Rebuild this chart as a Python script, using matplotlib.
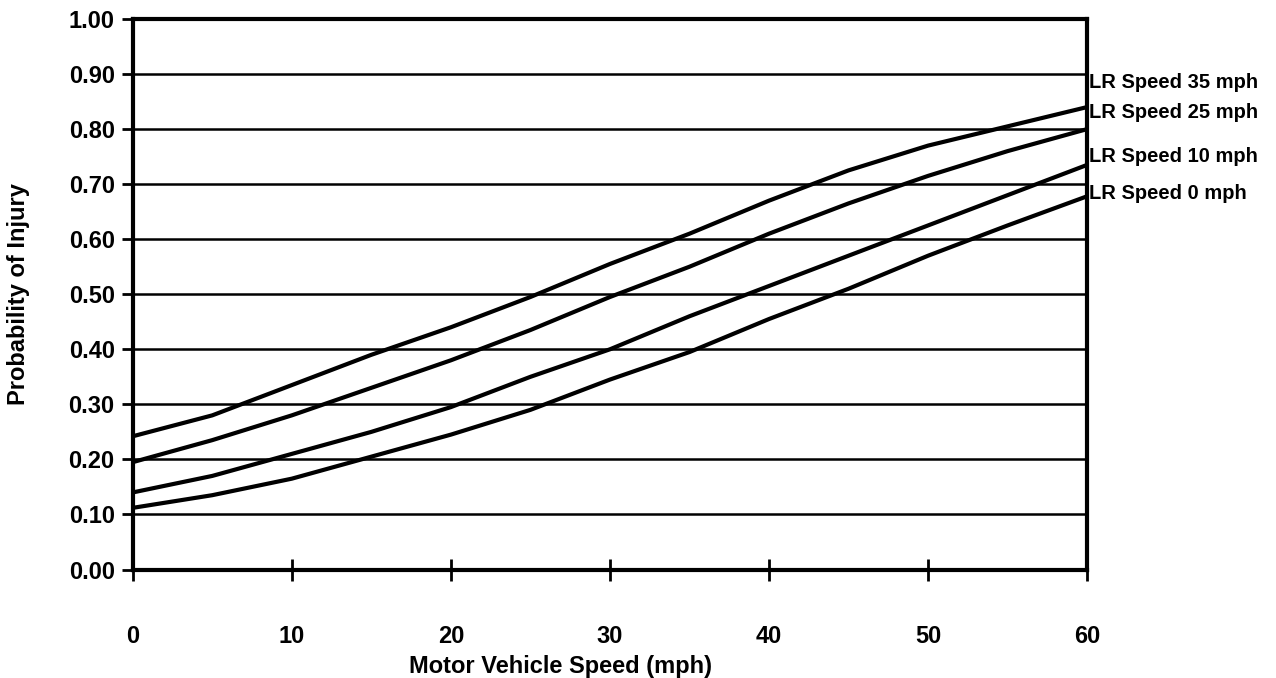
import matplotlib.pyplot as plt
import numpy as np

plt.rcParams['font.family'] = ['Liberation Sans', 'DejaVu Sans']

# Motor vehicle speed (mph)
speed = [0, 5, 10, 15, 20, 25, 30, 35, 40, 45, 50, 55, 60]

# Probability of injury, one curve per light rail speed
lr35 = [0.242, 0.28, 0.335, 0.39, 0.44, 0.495, 0.555, 0.61, 0.67, 0.725, 0.77, 0.805, 0.84]
lr25 = [0.195, 0.235, 0.28, 0.33, 0.38, 0.435, 0.495, 0.55, 0.61, 0.665, 0.715, 0.76, 0.80]
lr10 = [0.14, 0.17, 0.21, 0.25, 0.295, 0.35, 0.40, 0.46, 0.515, 0.57, 0.625, 0.68, 0.735]
lr0 = [0.112, 0.135, 0.165, 0.205, 0.245, 0.29, 0.345, 0.395, 0.455, 0.51, 0.57, 0.625, 0.678]

series = [lr35, lr25, lr10, lr0]
labels = ['LR Speed 35 mph', 'LR Speed 25 mph', 'LR Speed 10 mph', 'LR Speed 0 mph']
label_y = [0.884, 0.831, 0.751, 0.683]

xticks = [0, 10, 20, 30, 40, 50, 60]
yticks = np.round(np.arange(0, 1.01, 0.1), 2)

fig = plt.figure(figsize=(12.76, 6.78), dpi=100)
ax = fig.add_axes([0.104, 0.16, 0.748, 0.812])

# horizontal grid lines
for v in yticks:
    ax.axhline(v, color='black', lw=1.8, zorder=1)

for s in series:
    ax.plot(speed, s, color='black', lw=3, zorder=2)

for lab, y in zip(labels, label_y):
    ax.text(60.1, y, lab, fontsize=14.5, fontweight='bold', va='center', ha='left',
            clip_on=False)

ax.set_xlim(0, 60)
ax.set_ylim(0, 1.0)
ax.set_xticks(xticks)
ax.set_yticks(yticks)
ax.set_yticklabels([f'{v:.2f}' for v in yticks], fontsize=17, fontweight='bold')
ax.set_xticklabels([str(v) for v in xticks], fontsize=17, fontweight='bold')
ax.tick_params(axis='x', direction='inout', length=16, width=2, pad=32)
ax.tick_params(axis='y', direction='out', length=8, width=2, pad=5)

for sp in ax.spines.values():
    sp.set_linewidth(3)
    sp.set_color('black')

ax.set_ylabel('Probability of Injury', fontsize=17, fontweight='bold')
ax.yaxis.set_label_coords(-0.108, 0.5)
ax.set_xlabel('Motor Vehicle Speed (mph)', fontsize=17, fontweight='bold')
ax.xaxis.set_label_coords(0.448, -0.155)

fig.savefig('out.png', dpi=100)
